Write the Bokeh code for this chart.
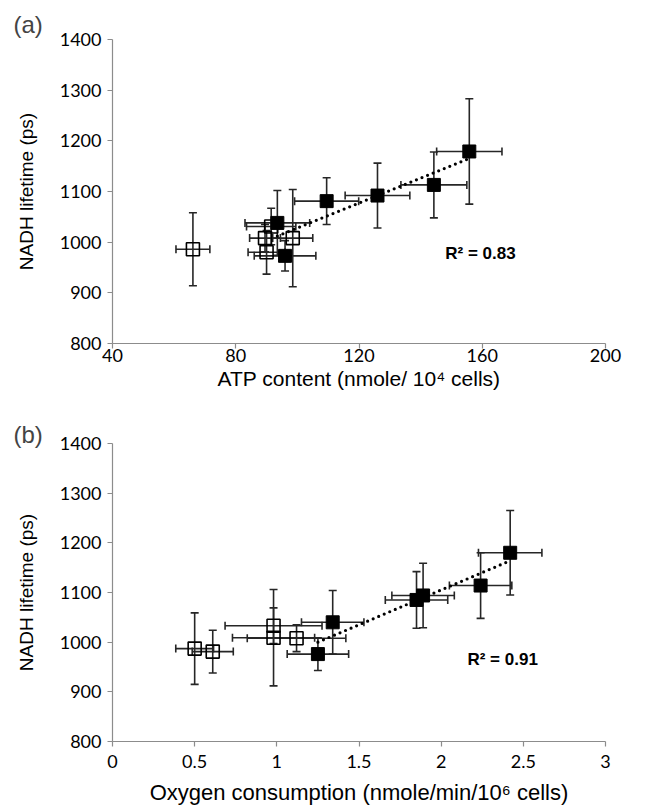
import numpy as np
from bokeh.plotting import figure
from bokeh.models import ColumnDataSource, Whisker, TeeHead, Label, Range1d, FixedTicker
from bokeh.layouts import column
from bokeh.embed import file_html
from bokeh.resources import INLINE

# ---------------- data ----------------
# Panel (a): ATP content vs NADH lifetime
a_open_x = [66.1, 90.0, 91.5, 98.5, 89.5]
a_open_xerr = [5.5, 6.0, 8.0, 6.5, 5.0]
a_open_y = [986, 980, 1031, 1008, 1008]
a_open_yerr = [72, 43, 36, 96, 27]

a_fill_x = [93.5, 96.0, 109.5, 126.0, 144.3, 155.8]
a_fill_xerr = [10.5, 10.0, 10.4, 10.5, 10.7, 10.6]
a_fill_y = [1038, 973, 1081, 1092, 1113, 1179]
a_fill_yerr = [64, 30, 46, 64, 65, 104]

# Panel (b): Oxygen consumption vs NADH lifetime
b_open_x = [0.50, 0.61, 0.98, 0.98, 1.12]
b_open_xerr = [0.115, 0.125, 0.295, 0.25, 0.30]
b_open_y = [987, 981, 1033, 1009, 1008]
b_open_yerr = [72, 43, 36, 97, 27]

b_fill_x = [1.34, 1.25, 1.85, 1.89, 2.24, 2.42]
b_fill_xerr = [0.19, 0.187, 0.19, 0.19, 0.19, 0.193]
b_fill_y = [1040, 976, 1085, 1094, 1114, 1180]
b_fill_yerr = [64, 33, 57, 65, 66, 85]

a_xticks = [40, 80, 120, 160, 200]
b_xticks = [0, 0.5, 1, 1.5, 2, 2.5, 3]
yticks = [800, 900, 1000, 1100, 1200, 1300, 1400]

a_r2 = "R\u00b2 = 0.83"
b_r2 = "R\u00b2 = 0.91"

TICK_FONT = "Lato"
TITLE_FONT = "Liberation Sans"
ERR_COLOR = "#262626"


def make_panel(tag, ox, oxe, oy, oye, fx, fxe, fy, fye, xr, xticks, xlabel, xlabel_size,
               r2text, r2x, r2y, height, top, bottom, right,
               xlabel_standoff, xtick_standoff, tag_standoff):
    p = figure(width=631, height=height, output_backend="svg", toolbar_location=None,
               x_range=Range1d(*xr), y_range=Range1d(800, 1400),
               min_border_left=112, min_border_right=right,
               min_border_top=top, min_border_bottom=bottom)
    p.outline_line_color = None
    p.grid.grid_line_color = None
    p.background_fill_color = "white"
    p.border_fill_color = "white"

    for ax in (p.xaxis, p.yaxis):
        ax.axis_line_color = "#8c8c8c"
        ax.axis_line_width = 1.2
        ax.major_tick_line_color = "#8c8c8c"
        ax.major_tick_line_width = 1.2
        ax.minor_tick_line_color = None
        ax.major_tick_in = 0
        ax.major_tick_out = 5
        ax.major_label_text_font = TICK_FONT
        ax.major_label_text_font_size = "18px"
        ax.major_label_text_color = "black"
        ax.axis_label_text_font = TITLE_FONT
        ax.axis_label_text_font_style = "normal"
        ax.axis_label_text_color = "black"

    p.xaxis.ticker = FixedTicker(ticks=xticks)
    p.yaxis.ticker = FixedTicker(ticks=yticks)
    p.xaxis.axis_label = xlabel
    p.xaxis.axis_label_text_font_size = xlabel_size
    p.xaxis.axis_label_standoff = xlabel_standoff
    p.xaxis.major_label_standoff = xtick_standoff
    p.yaxis.axis_label = "NADH lifetime (ps)"
    p.yaxis.axis_label_text_font_size = "19px"
    p.yaxis.axis_label_standoff = 20
    p.yaxis.major_label_standoff = 6

    so = ColumnDataSource(dict(x=ox, y=oy,
                               xl=[a - b for a, b in zip(ox, oxe)], xu=[a + b for a, b in zip(ox, oxe)],
                               yl=[a - b for a, b in zip(oy, oye)], yu=[a + b for a, b in zip(oy, oye)]))
    sf = ColumnDataSource(dict(x=fx, y=fy,
                               xl=[a - b for a, b in zip(fx, fxe)], xu=[a + b for a, b in zip(fx, fxe)],
                               yl=[a - b for a, b in zip(fy, fye)], yu=[a + b for a, b in zip(fy, fye)]))

    for src in (so, sf):
        for dim, base, lo, up in (("height", "x", "yl", "yu"), ("width", "y", "xl", "xu")):
            w = Whisker(source=src, dimension=dim, base=base, lower=lo, upper=up,
                        line_color=ERR_COLOR, line_width=1.6,
                        upper_head=TeeHead(size=8, line_color=ERR_COLOR, line_width=1.6),
                        lower_head=TeeHead(size=8, line_color=ERR_COLOR, line_width=1.6))
            p.add_layout(w)

    # trend line for the filled points
    k, c = np.polyfit(np.array(fx), np.array(fy), 1)
    tx = np.array([min(fx), max(fx)])
    p.line(tx, k * tx + c, line_color="black", line_width=3.2, line_dash="0 6",
           line_cap="round")

    p.scatter(ox, oy, marker="square", size=13, fill_color=None,
              line_color="black", line_width=1.6)
    p.scatter(fx, fy, marker="square", size=13, fill_color="black",
              line_color="black", line_width=1)

    p.add_layout(Label(x=r2x, y=r2y, text=r2text, text_font=TITLE_FONT,
                       text_font_style="bold", text_font_size="17px",
                       text_baseline="middle", text_align="left", text_color="black"))
    p.title.text = tag
    p.title.align = "left"
    p.title.offset = -99
    p.title.text_font = TITLE_FONT
    p.title.text_font_style = "normal"
    p.title.text_font_size = "24px"
    p.title.standoff = tag_standoff
    return p


pa = make_panel("(a)", a_open_x, a_open_xerr, a_open_y, a_open_yerr,
                a_fill_x, a_fill_xerr, a_fill_y, a_fill_yerr,
                (40, 200), a_xticks, "ATP content (nmole/ 10\u2074 cells)", "21px",
                a_r2, 148, 977, 400, 39, 57, 26, 2, 0, 3)
pb = make_panel("(b)", b_open_x, b_open_xerr, b_open_y, b_open_yerr,
                b_fill_x, b_fill_xerr, b_fill_y, b_fill_yerr,
                (0, 3), b_xticks, "Oxygen consumption (nmole/min/10\u2076 cells)", "22px",
                b_r2, 2.16, 965, 408, 43, 67, 19, 9, 8, -8)

layout = column(pa, pb)
open("out.html", "w").write(file_html(layout, INLINE))
